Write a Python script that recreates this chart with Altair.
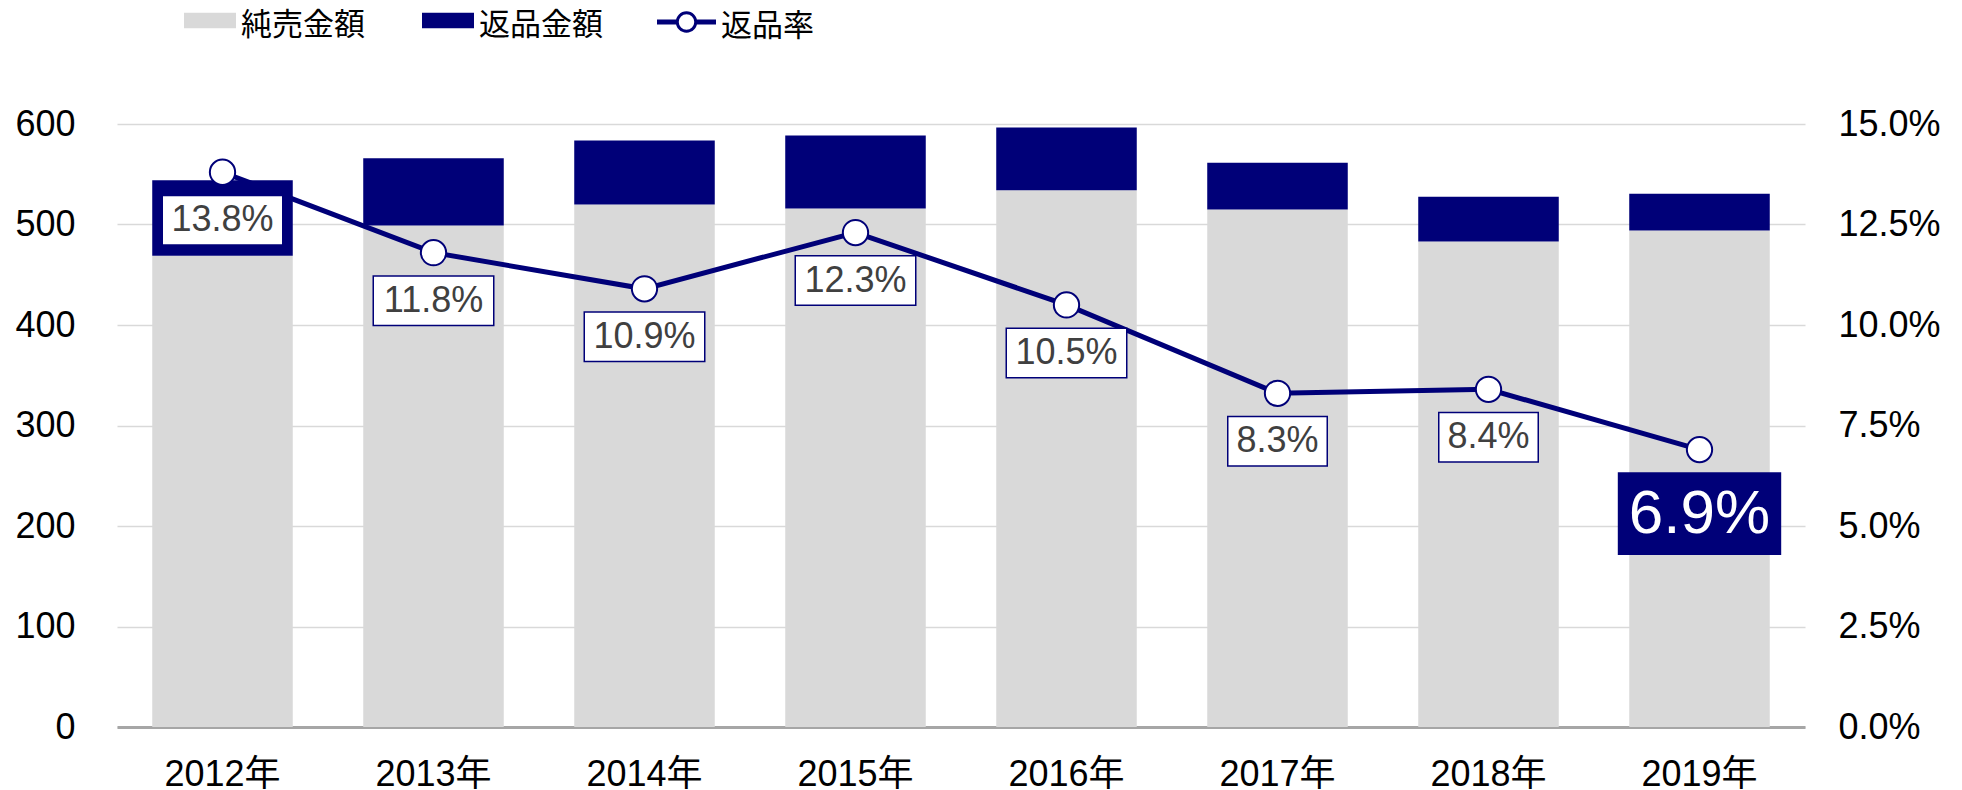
import altair as alt
import pandas as pd

# ---- data ----
years = ["2012年", "2013年", "2014年", "2015年", "2016年", "2017年", "2018年", "2019年"]
net_sales = [469, 499, 520, 516, 534, 515, 483, 494]
returns = [75, 67, 63.5, 72.5, 62.5, 46.5, 44.5, 36.5]
return_rate = [0.138, 0.118, 0.109, 0.123, 0.105, 0.083, 0.084, 0.069]
rate_labels = ["13.8%", "11.8%", "10.9%", "12.3%", "10.5%", "8.3%", "8.4%", "6.9%"]
bar_series = ["純売金額", "返品金額"]
line_series = "返品率"
highlight_year = "2019年"
left_ticks = [0, 100, 200, 300, 400, 500, 600]
right_ticks = [0, 0.025, 0.05, 0.075, 0.10, 0.125, 0.15]

# ---- styles ----
NAVY = "#000078"
GRAY = "#D9D9D9"
LABEL_GRAY = "#404040"
NUM_FONT = "Liberation Sans, Arial, Noto Sans CJK JP"
CJK_FONT = "Noto Sans CJK JP"

n = len(years)
bars_df = pd.DataFrame({
    "year": years * 2,
    "series": [bar_series[0]] * n + [bar_series[1]] * n,
    "amount": net_sales + returns,
    "order": [0] * n + [1] * n,
})
rate_df = pd.DataFrame({
    "year": years,
    "rate": return_rate,
    "label": rate_labels,
    "nchar": [len(s) for s in rate_labels],
    "series": [line_series] * n,
})

x_enc = alt.X("year:N", sort=years,
              scale=alt.Scale(paddingInner=0.334, paddingOuter=0.167))

# legend swatch drawn slightly above its row centre, so labels sit a bit lower
legend_rect_path = "M-1,-0.492H1V0.108H-1Z"
legend_line_path = (
    "M-1,-0.214H-0.33V-0.144H-1Z M0.33,-0.214H1V-0.144H0.33Z "
    "M0.33,-0.179C0.33,0.0033 0.1823,0.151 0,0.151C-0.1823,0.151 -0.33,0.0033 -0.33,-0.179"
    "C-0.33,-0.3613 -0.1823,-0.509 0,-0.509C0.1823,-0.509 0.33,-0.3613 0.33,-0.179Z"
)

bars = alt.Chart(bars_df).mark_bar().encode(
    x=alt.X("year:N", sort=years,
            scale=alt.Scale(paddingInner=0.334, paddingOuter=0.167),
            axis=alt.Axis(title=None, labelAngle=0, ticks=False, tickSize=0,
                          labelPadding=30, labelFont=NUM_FONT, labelFontSize=36,
                          labelColor="#000000", domainColor="#A6A6A6",
                          domainWidth=3, grid=False)),
    y=alt.Y("amount:Q", stack="zero",
            scale=alt.Scale(domain=[0, 600], nice=False, zero=True),
            axis=alt.Axis(orient="left", title=None, values=left_ticks,
                          grid=True, gridColor=GRAY, gridWidth=1.5,
                          domain=False, ticks=False, tickSize=0,
                          labelPadding=42, labelFont=NUM_FONT,
                          labelFontSize=36, labelColor="#000000")),
    color=alt.Color("series:N",
                    scale=alt.Scale(domain=bar_series, range=[GRAY, NAVY]),
                    legend=alt.Legend(orient="none", legendX=67, legendY=-124.5,
                                      direction="horizontal", columns=2,
                                      title=None, padding=0,
                                      symbolType=legend_rect_path,
                                      symbolSize=2704, symbolStrokeWidth=0,
                                      labelFont=CJK_FONT, labelFontSize=31,
                                      labelColor="#000000", labelOffset=5,
                                      columnPadding=57, labelLimit=0)),
    order=alt.Order("order:Q"),
)

y_rate = alt.Y("rate:Q",
               scale=alt.Scale(domain=[0, 0.15], nice=False, zero=True),
               axis=alt.Axis(orient="right", title=None, values=right_ticks,
                             format=".1%", grid=False, domain=False,
                             ticks=False, tickSize=0, labelPadding=33,
                             labelFont=NUM_FONT, labelFontSize=36,
                             labelColor="#000000"))

line = alt.Chart(rate_df).mark_line(strokeWidth=5).encode(
    x=x_enc,
    y=y_rate,
    stroke=alt.Stroke("series:N",
                      scale=alt.Scale(domain=[line_series], range=[NAVY]),
                      legend=alt.Legend(orient="none", legendX=540,
                                        legendY=-126.5, title=None, padding=0,
                                        symbolType=legend_line_path,
                                        symbolSize=3136, symbolStrokeWidth=3,
                                        symbolFillColor="white",
                                        labelFont=CJK_FONT, labelFontSize=31,
                                        labelColor="#000000", labelOffset=5,
                                        labelLimit=0)),
)

points = alt.Chart(rate_df).mark_point(
    shape="circle", filled=True, fill="white", stroke=NAVY, strokeWidth=2,
    size=640, opacity=1
).encode(x=x_enc, y="rate:Q")

box4 = "M-0.995,-0.495H0.995V0.495H-0.995Z"
box5 = "M-1.205,-0.495H1.205V0.495H-1.205Z"
box_big = "M-1.634,-0.827H1.634V0.827H-1.634Z"

regular = alt.Chart(rate_df).transform_filter(
    alt.datum.year != highlight_year)

boxes = regular.mark_point(
    filled=True, fill="white", stroke=NAVY, strokeWidth=1.5,
    size=10000, opacity=1, yOffset=48
).encode(
    x=x_enc, y="rate:Q",
    shape=alt.Shape("nchar:O", scale=alt.Scale(domain=[4, 5], range=[box4, box5]),
                    legend=None),
)

texts = regular.mark_text(
    dy=48, fontSize=36, font=NUM_FONT, color=LABEL_GRAY, baseline="middle"
).encode(x=x_enc, y="rate:Q", text="label:N")

hl = alt.Chart(rate_df).transform_filter(alt.datum.year == highlight_year)

hl_box = hl.mark_point(
    shape=box_big, filled=True, fill=NAVY, strokeWidth=0, size=10000,
    opacity=1, yOffset=64
).encode(x=x_enc, y="rate:Q")

hl_text = hl.mark_text(
    dy=64, fontSize=62, font=NUM_FONT, color="white", baseline="middle"
).encode(x=x_enc, y="rate:Q", text="label:N")

rate_layer = alt.layer(line, points, boxes, texts, hl_box, hl_text)

chart = alt.layer(bars, rate_layer).resolve_scale(
    y="independent"
).properties(
    width=1688,
    height=603,
    autosize=alt.AutoSizeParams(type="none"),
    padding={"left": 109, "top": 116, "right": 147, "bottom": 68},
).configure_view(stroke=None)

chart.save("out.html", embed_options={"renderer": "svg", "actions": False})
